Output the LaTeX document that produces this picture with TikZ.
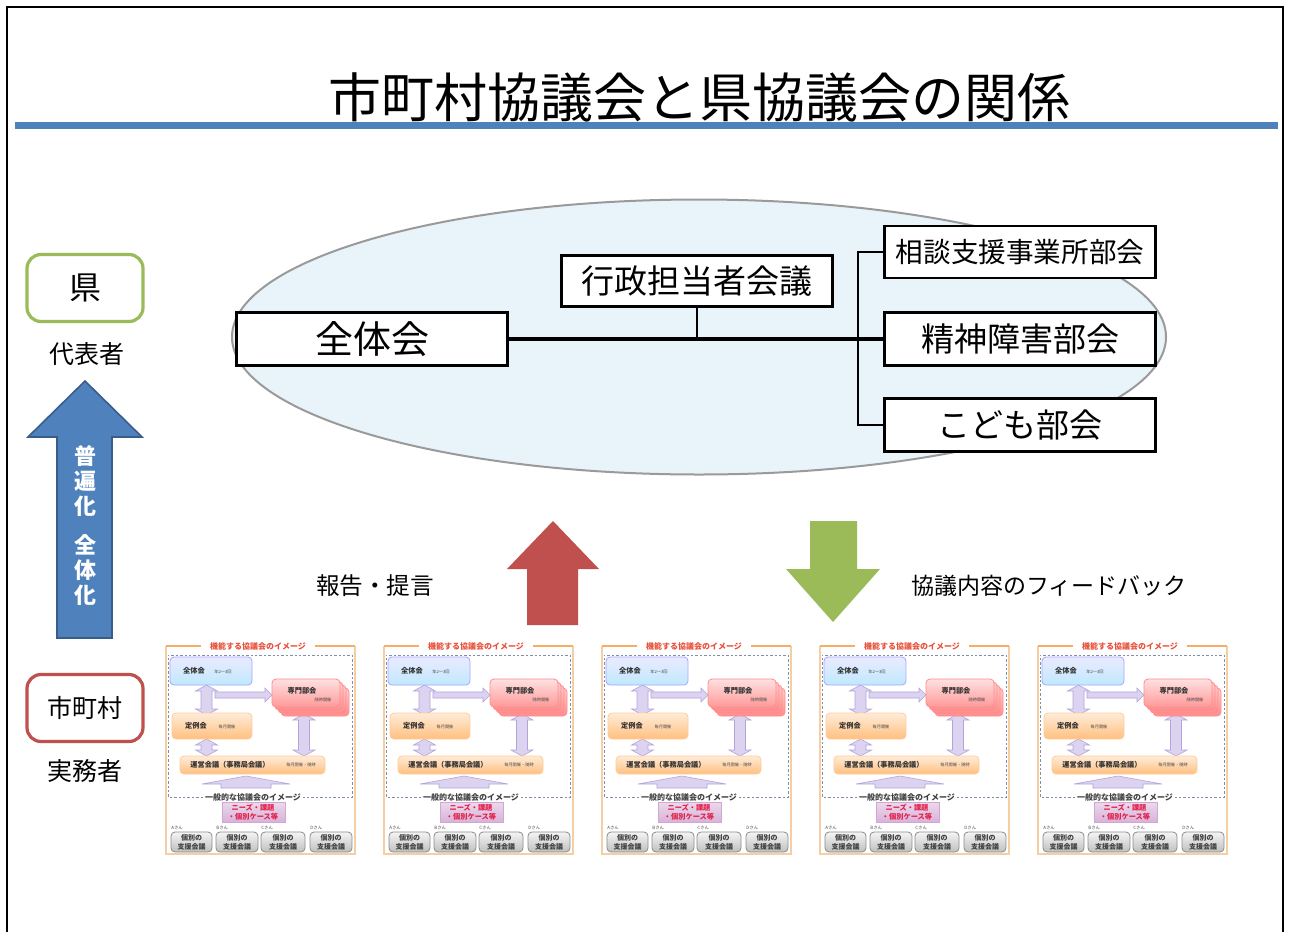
\documentclass[tikz,border=0pt]{standalone}
\usepackage{fontspec}
\setmainfont{Noto Sans CJK JP}
\usetikzlibrary{shapes.geometric}
\definecolor{barblue}{HTML}{4F81BD}
\definecolor{arrblueD}{HTML}{385D8A}
\definecolor{kengreen}{HTML}{9BBB59}
\definecolor{cityred}{HTML}{C0504D}
\definecolor{ellfill}{HTML}{E8F4FA}
\definecolor{ellline}{HTML}{9A9A9A}
\definecolor{thorange}{HTML}{F6AE66}
\definecolor{thside}{HTML}{F5CFA4}
\definecolor{thtitlec}{HTML}{E8503A}
\definecolor{thdashc}{HTML}{7F8FA6}
\definecolor{pfill}{HTML}{DCD3F0}
\definecolor{pline}{HTML}{B2A3DA}
\definecolor{nredc}{HTML}{E3204A}
\newcommand\thvarrow[3]{%
  \filldraw[parrow] (#1-5.5,#2+6) -- (#1-11,#2+6) -- (#1,#2) -- (#1+11,#2+6) -- (#1+5.5,#2+6)
    -- (#1+5.5,#3-6) -- (#1+11,#3-6) -- (#1,#3) -- (#1-11,#3-6) -- (#1-5.5,#3-6) -- cycle;}
\tikzset{
  orgbox/.style={draw=black, line width=1.4pt, fill=white, inner sep=0pt,
    minimum width=135.5pt, minimum height=26.5pt},
  sidebox/.style={draw=#1, line width=1.6pt, fill=white, rounded corners=7pt,
    minimum width=58pt, minimum height=33.5pt, inner sep=0pt},
  conn/.style={line width=1.1pt},
  parrow/.style={fill=pfill, draw=pline, line width=0.3pt},
  thframe/.style={draw=thside, line width=0.6pt},
  thtop/.style={draw=thorange, line width=0.7pt},
  thdash/.style={draw=thdashc, line width=0.5pt, dash pattern=on 1.2pt off 1pt},
  thtitle/.style={text=thtitlec, font=\fontsize{4}{4.5}\selectfont\bfseries, inner sep=0.5pt},
  thlab/.style={text=black!80, font=\fontsize{3.6}{4.2}\selectfont\bfseries, inner sep=0pt},
  thsub/.style={text=black!70, font=\fontsize{2.1}{2.5}\selectfont, inner sep=0pt},
  thcase/.style={text=black!75, font=\fontsize{3.5}{4.4}\selectfont\bfseries, inner sep=0pt, align=center},
  thname/.style={text=black!70, font=\fontsize{2.2}{2.6}\selectfont, inner sep=0pt, anchor=west},
  thumb/.pic={
    % outer frame
    \draw[thframe] (1,1) -- (1,209) -- (190,209) -- (190,1);
    \draw[thtop] (36,1) -- (1,1);
    \draw[thtop] (190,1) -- (150,1);
    \node[thtitle] (-title) at (93,1) {機能する協議会のイメージ};
    % dashed box
    \draw[thdash] (38,152) -- (3,152) -- (3,10) -- (187,10) -- (187,152) -- (138,152);
    \node[text=black!75, font=\fontsize{4}{4.5}\selectfont\bfseries, inner sep=0.5pt] (-gen) at (88,152) {一般的な協議会のイメージ};
    % arrows
    \thvarrow{41.5}{40}{70}
    \filldraw[parrow] (50,47) -- (100,47) -- (100,43) -- (107,50) -- (100,57) -- (100,53) -- (50,53) -- cycle;
    \thvarrow{41.5}{94}{111}
    \thvarrow{139}{69}{111}
    \filldraw[parrow] (56,143) -- (56,139) -- (37,139) -- (81,131) -- (125,139) -- (106,139) -- (106,143) -- cycle;
    % boxes
    \shadedraw[top color=blue!8, bottom color=blue!35!cyan!25, draw=blue!35, line width=0.4pt, rounded corners=2pt] (5,12) rectangle (87,40);
    \foreach \o in {9,6,3}{
      \shadedraw[top color=red!20, bottom color=red!45, draw=red!45, line width=0.4pt, rounded corners=2pt] (107+\o,34+\o) rectangle (175+\o,62+\o);}
    \shadedraw[top color=red!12, bottom color=red!40, draw=red!45, line width=0.4pt, rounded corners=2pt] (107,34) rectangle (175,62);
    \shadedraw[top color=orange!15, bottom color=orange!50, draw=orange!40, line width=0.4pt, rounded corners=2pt] (7,68) rectangle (87,94);
    \shadedraw[top color=orange!15, bottom color=orange!50, draw=orange!40, line width=0.4pt, rounded corners=2pt] (15,111) rectangle (160,129);
    \shadedraw[top color=violet!15, bottom color=violet!30, draw=violet!35, line width=0.4pt] (57,157) rectangle (120,177);
    \foreach \a/\b in {6/47,51/93,96/140,145/187}{
      \shadedraw[top color=black!4, bottom color=black!25, draw=black!45, line width=0.4pt, rounded corners=2pt] (\a,187) rectangle (\b,207);}
    % texts
    \node[thlab] (-zt) at (29,26) {全体会};
    \node[thsub] (-ztn) at (58,27) {年2～3回};
    \node[thlab] (-sm) at (137,46) {専門部会};
    \node[thsub] (-smn) at (158,55) {随時開催};
    \node[thlab] (-tr) at (31,81) {定例会};
    \node[thsub] (-trn) at (62,82) {毎月開催};
    \node[thlab] (-un) at (65,120) {運営会議（事務局会議）};
    \node[thsub] (-unn) at (136,120) {毎月開催・随時};
    \node[thlab, text=nredc, align=center, font=\fontsize{3.6}{4.6}\selectfont\bfseries] (-nz) at (88,167) {ニーズ・課題\\・個別ケース等};
    \node[thcase] (-ca) at (26.5,197) {個別の\\支援会議};
    \node[thcase] (-cb) at (72,197) {個別の\\支援会議};
    \node[thcase] (-cc) at (118,197) {個別の\\支援会議};
    \node[thcase] (-cd) at (166,197) {個別の\\支援会議};
    \node[thname] (-na) at (6,183) {Aさん};
    \node[thname] (-nb) at (51,183) {Bさん};
    \node[thname] (-nc) at (96,183) {Cさん};
    \node[thname] (-nd) at (145,183) {Dさん};
  }
}
\begin{document}
\begin{tikzpicture}[x=0.5pt,y=-0.5pt]
\useasboundingbox (0,0) rectangle (1290,932);
\fill[white] (0,0) rectangle (1290,932);
% frame
\draw[line width=1pt] (7,932) -- (7,7) -- (1283,7) -- (1283,932);
% title
\node[font=\fontsize{26.5}{30}\selectfont, inner sep=0pt] (title) at (699,97) {市町村協議会と県協議会の関係};
\fill[barblue] (15,122) rectangle (1278,129);
% ellipse
\node[ellipse, fill=ellfill, draw=ellline, line width=1pt, minimum width=467pt, minimum height=137.5pt, inner sep=0pt] (council) at (699,337) {};
% org boxes
\node[orgbox, font=\fontsize{19}{20}\selectfont] (zentai) at (372,339) {全体会};
\node[orgbox, minimum height=25.5pt, font=\fontsize{16.5}{18}\selectfont] (gyosei) at (697,281) {行政担当者会議};
\node[orgbox, minimum height=26pt, font=\fontsize{13.8}{16}\selectfont] (soudan) at (1020,252) {相談支援事業所部会};
\node[orgbox, minimum height=26.5pt, font=\fontsize{16.5}{18}\selectfont] (seishin) at (1020,339) {精神障害部会};
\node[orgbox, minimum height=26.5pt, font=\fontsize{16.5}{18}\selectfont] (kodomo) at (1020,425) {こども部会};
\coordinate (bx) at (858,339);
\draw[line width=2.2pt] (zentai.east) -- (seishin.west);
\draw[conn] (gyosei.south) -- (gyosei.south |- zentai.east);
\draw[conn] (soudan.west) -| (bx) |- (kodomo.west);
% left side
\node[sidebox=kengreen, font=\fontsize{16}{18}\selectfont] (ken) at (85,288) {県};
\node[font=\fontsize{12.5}{14}\selectfont, inner sep=0pt] (daihyo) at (87,354) {代表者};
\filldraw[fill=barblue, draw=arrblueD, line width=0.8pt] (85,381) -- (142,437) -- (112,437) -- (112,638) -- (57,638) -- (57,437) -- (28,437) -- cycle;
\node[text=white, font=\fontsize{11}{12.5}\selectfont\bfseries, align=center, inner sep=0pt] (fuhen) at (85,526) {普\\遍\\化\\[7pt]全\\体\\化};
\node[sidebox=cityred, font=\fontsize{12.5}{14}\selectfont] (city) at (85,708) {市町村};
\node[font=\fontsize{12.5}{14}\selectfont, inner sep=0pt] (jitsumu) at (85,771) {実務者};
% middle arrows
\fill[cityred] (553,521) -- (599,569) -- (578,569) -- (578,625) -- (527,625) -- (527,569) -- (507,569) -- cycle;
\fill[kengreen] (810,521) -- (857,521) -- (857,569) -- (880,569) -- (833,622) -- (786,569) -- (810,569) -- cycle;
\node[font=\fontsize{11.8}{14}\selectfont, inner sep=0pt] (houkoku) at (375,586) {報告・提言};
\node[font=\fontsize{11.5}{14}\selectfont, inner sep=0pt] (feedback) at (1049,586) {協議内容のフィードバック};
% thumbnails
\pic (t1) at (165,645) {thumb};
\pic (t2) at (383,645) {thumb};
\pic (t3) at (601,645) {thumb};
\pic (t4) at (819,645) {thumb};
\pic (t5) at (1037,645) {thumb};
\end{tikzpicture}
\end{document}
